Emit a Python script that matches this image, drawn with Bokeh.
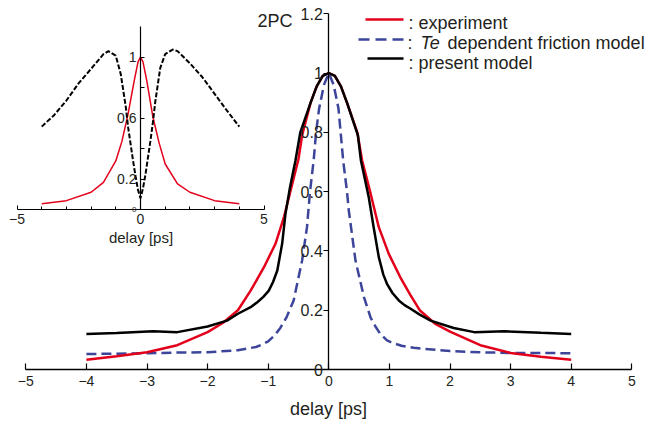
from bokeh.plotting import figure
from bokeh.models import Range1d, LinearAxis, FixedTicker, Label
from bokeh.embed import file_html
from bokeh.resources import INLINE

# ---------------- data ----------------
x_ticks = [-5, -4, -3, -2, -1, 0, 1, 2, 3, 4, 5]
y_ticks = [0, 0.2, 0.4, 0.6, 0.8, 1.0, 1.2]
y_tick_labels = ["0", "0.2", "0.4", "0.6", "0.8", "1", "1.2"]

# experiment (red)
exp_x = [-4, -3.5, -3, -2.5, -2, -1.75, -1.5, -1.29, -1.07, -0.88, -0.74, -0.63, -0.5, -0.44, -0.3, -0.2, -0.1, 0,
         0.1, 0.2, 0.3, 0.47, 0.55, 0.69, 0.825, 0.99, 1.18, 1.35, 1.5, 1.75, 2, 2.5, 3, 3.5, 4]
exp_y = [0.033, 0.045, 0.058, 0.082, 0.126, 0.157, 0.2, 0.266, 0.345, 0.424, 0.514, 0.604, 0.71, 0.79, 0.9, 0.955,
         0.99, 1.0,
         0.99, 0.955, 0.9, 0.8, 0.705, 0.593, 0.48, 0.39, 0.311, 0.25, 0.2, 0.155, 0.128, 0.082, 0.056, 0.043, 0.033]

# Te dependent friction model (blue dashed)
te_x = [-4, -3, -2.5, -2, -1.5, -1.2, -1.1, -1, -0.9, -0.8, -0.7, -0.58, -0.44, -0.36, -0.31, -0.25, -0.21, -0.16,
        -0.08, 0,
        0.08, 0.16, 0.237, 0.3, 0.33, 0.44, 0.58, 0.69, 0.77, 0.85, 0.96, 1.05, 1.2, 1.4, 2, 2.5, 3, 4]
te_y = [0.052, 0.055, 0.057, 0.058, 0.065, 0.076, 0.084, 0.095, 0.114, 0.14, 0.175, 0.233, 0.368, 0.48, 0.6, 0.705,
        0.8, 0.88, 0.96, 1.0,
        0.96, 0.88, 0.705, 0.6, 0.536, 0.368, 0.244, 0.175, 0.145, 0.12, 0.098, 0.09, 0.08, 0.073, 0.062, 0.058,
        0.056, 0.055]

# present model (black)
pm_x = [-4, -3.5, -2.9, -2.5, -2, -1.68, -1.5, -1.29, -1.18, -1.08, -0.99, -0.92, -0.85, -0.77, -0.715, -0.64, -0.55,
        -0.47, -0.3, -0.2, -0.1, 0,
        0.1, 0.2, 0.3, 0.48, 0.53, 0.66, 0.74, 0.825, 0.9, 0.96, 1.05, 1.155, 1.25, 1.35, 1.5, 1.68, 2.06, 2.4, 2.9,
        3.5, 4]
pm_y = [0.12, 0.123, 0.129, 0.126, 0.145, 0.165, 0.188, 0.21, 0.227, 0.245, 0.266, 0.295, 0.334, 0.424, 0.525, 0.615,
        0.705, 0.8, 0.9, 0.955, 0.99, 1.0,
        0.99, 0.955, 0.9, 0.79, 0.705, 0.58, 0.48, 0.379, 0.32, 0.289, 0.258, 0.233, 0.217, 0.205, 0.185, 0.165, 0.14,
        0.126, 0.129, 0.124, 0.12]

# inset
in_x_ticks = [-5, 0, 5]
in_x_minor = [-4, -3, -2, -1, 1, 2, 3, 4]
in_y_ticks = [0, 0.2, 0.4, 0.6, 0.8, 1.0]
in_y_labels = ["", "0.2", "", "0.6", "", "1"]

in_exp_x = [-4, -3, -2, -1.5, -1, -0.75, -0.5, -0.25, -0.1, 0, 0.1, 0.25, 0.5, 0.75, 1, 1.5, 2, 3, 4]
in_exp_y = [0.04, 0.06, 0.115, 0.18, 0.32, 0.45, 0.63, 0.85, 0.97, 1.0, 0.97, 0.85, 0.61, 0.44, 0.3, 0.17, 0.115,
            0.06, 0.04]

in_ratio_x = [-4, -3.5, -3, -2.5, -2, -1.5, -1.3, -1, -0.8, -0.6, -0.5, -0.4, -0.3, -0.2, -0.1, 0,
              0.1, 0.2, 0.3, 0.4, 0.5, 0.6, 0.8, 1, 1.3, 1.5, 2, 2.5, 3, 3.5, 4]
in_ratio_y = [0.545, 0.62, 0.716, 0.83, 0.924, 1.02, 1.04, 1.01, 0.89, 0.68, 0.54, 0.43, 0.32, 0.22, 0.13, 0.076,
              0.14, 0.23, 0.34, 0.45, 0.57, 0.71, 0.93, 1.02, 1.05, 1.04, 0.96, 0.87, 0.76, 0.65, 0.545]

# ---------------- layout (pixels inside the figure) ----------------
W, H = 646, 421
X0, SX = 328.3, 60.6      # main: pixel of x=0, pixels per unit
Y0, SY = 369.0, 296.5     # main: pixel of y=0 (from top), pixels per unit
IX0, ISX = 140.0, 24.7    # inset
IY0, ISY = 209.3, 152.6

def dx(px):
    return (px - X0) / SX

def dy(py):
    return (Y0 - py) / SY

RED = "#e3001b"
BLUE = "#3c4599"
TXT = "#231f20"
FONT = "Liberation Sans"
NARROW = "Liberation Sans Narrow, Liberation Sans"

p = figure(width=W, height=H, output_backend="svg", toolbar_location=None,
           x_range=Range1d(dx(0), dx(W)), y_range=Range1d(dy(H), dy(0)),
           x_axis_type=None, y_axis_type=None, min_border=0)
p.outline_line_color = None
p.background_fill_color = "white"
p.border_fill_color = "white"

p.extra_x_ranges = {"ix": Range1d((0 - IX0) / ISX, (W - IX0) / ISX)}
p.extra_y_ranges = {"iy": Range1d((IY0 - H) / ISY, IY0 / ISY)}

# ---- main axes ----
xa = LinearAxis(fixed_location=0, bounds=(-5, 5),
                ticker=FixedTicker(ticks=x_ticks, minor_ticks=[]),
                axis_line_color="black", axis_line_width=1.3,
                major_tick_in=6, major_tick_out=0, major_tick_line_color="black",
                major_tick_line_width=1.2,
                major_label_standoff=6,
                major_label_text_font=NARROW, major_label_text_font_size="14px",
                major_label_text_color=TXT,
                axis_label="delay [ps]", axis_label_standoff=10,
                axis_label_text_font=FONT, axis_label_text_font_size="18px",
                axis_label_text_font_style="normal", axis_label_text_color=TXT)
p.add_layout(xa, "below")

ya = LinearAxis(fixed_location=0, bounds=(0, 1.2),
                ticker=FixedTicker(ticks=y_ticks, minor_ticks=[]),
                major_label_overrides=dict(zip(y_ticks, y_tick_labels)),
                axis_line_color="black", axis_line_width=1.3,
                major_tick_in=0, major_tick_out=5, major_tick_line_color="black",
                major_tick_line_width=1.2,
                major_label_standoff=1,
                major_label_text_font=FONT, major_label_text_font_size="16px",
                major_label_text_color=TXT)
p.add_layout(ya, "left")

# ---- inset axes ----
ixa = LinearAxis(x_range_name="ix", y_range_name="iy", fixed_location=0, bounds=(-5, 5),
                 ticker=FixedTicker(ticks=in_x_ticks, minor_ticks=in_x_minor),
                 axis_line_color="black", axis_line_width=1.2,
                 major_tick_in=4, major_tick_out=0, minor_tick_in=3, minor_tick_out=0,
                 major_tick_line_color="black", minor_tick_line_color="black",
                 major_label_standoff=4,
                 major_label_text_font=FONT, major_label_text_font_size="14px",
                 major_label_text_color=TXT,
                 axis_label="delay [ps]", axis_label_standoff=2,
                 axis_label_text_font=FONT, axis_label_text_font_size="15px",
                 axis_label_text_font_style="normal", axis_label_text_color=TXT)
p.add_layout(ixa, "below")

iya = LinearAxis(x_range_name="ix", y_range_name="iy", fixed_location=0, bounds=(0, 1.2),
                 ticker=FixedTicker(ticks=in_y_ticks, minor_ticks=[]),
                 major_label_overrides=dict(zip(in_y_ticks, in_y_labels)),
                 axis_line_color="black", axis_line_width=1.2,
                 major_tick_in=4, major_tick_out=0, major_tick_line_color="black",
                 major_label_standoff=4,
                 major_label_text_font=FONT, major_label_text_font_size="14px",
                 major_label_text_color=TXT)
p.add_layout(iya, "left")

p.add_layout(Label(x=0, y=0, x_range_name="ix", y_range_name="iy", text="0",
                   x_offset=-4, text_align="right", text_baseline="middle",
                   text_font=FONT, text_font_size="8px", text_color=TXT))

# ---- curves ----
p.line(in_exp_x, in_exp_y, x_range_name="ix", y_range_name="iy",
       line_color=RED, line_width=1.5)
p.line(in_ratio_x, in_ratio_y, x_range_name="ix", y_range_name="iy",
       line_color="black", line_width=2, line_dash="5 2")

p.line(te_x, te_y, line_color=BLUE, line_width=2.5, line_dash="10 5")
p.line(exp_x, exp_y, line_color=RED, line_width=2.5)
p.line(pm_x, pm_y, line_color="black", line_width=2.5)

# ---- texts ----
p.add_layout(Label(x=dx(292), y=dy(20.5), text="2PC", text_align="right", text_baseline="alphabetic",
                   text_font=FONT, text_font_size="18px", text_color=TXT))

# legend (drawn by hand because of the italic "Te")
p.line([dx(365), dx(403)], [dy(19), dy(19)], line_color=RED, line_width=2.5)
p.line([dx(358), dx(405)], [dy(39), dy(39)], line_color=BLUE, line_width=2.5, line_dash="11 6")
p.line([dx(367), dx(403)], [dy(58), dy(58)], line_color="black", line_width=2.5)

def txt(px, py, s, style="normal"):
    p.add_layout(Label(x=dx(px), y=dy(py), text=s, text_align="left", text_baseline="alphabetic",
                       text_font=FONT, text_font_size="18px", text_font_style=style,
                       text_color=TXT))

txt(408, 22.5, ": experiment")
txt(407, 42, ":")
txt(420, 42, "Te", "italic")
txt(447, 42, "dependent friction model")
txt(408, 62.5, ": present model")

open("out.html", "w").write(file_html(p, INLINE))
